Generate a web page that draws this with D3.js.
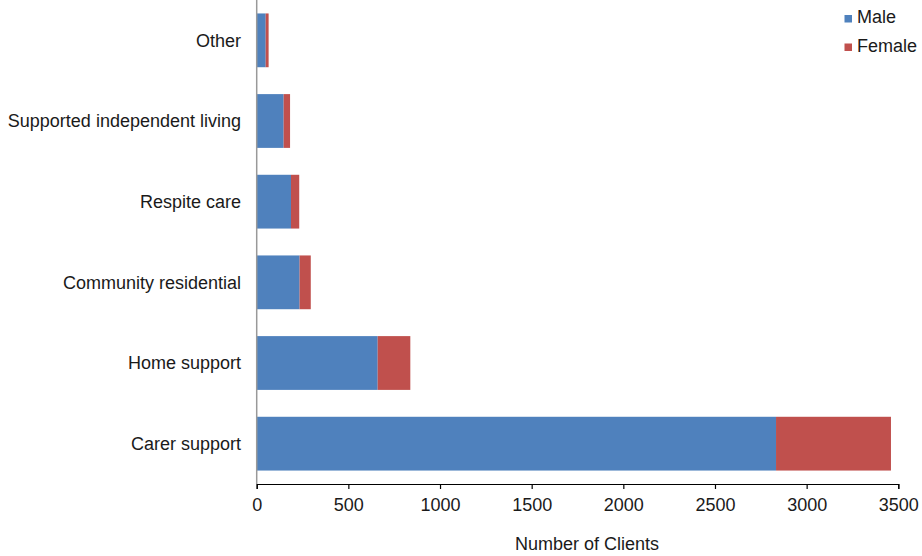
<!DOCTYPE html>
<html><head><meta charset="utf-8">
<script src="https://cdn.jsdelivr.net/npm/d3@7"></script>
<style>body{margin:0;background:#fff}svg{display:block;font-family:"Liberation Sans",Arial,sans-serif}</style>
</head><body><svg id="c" width="922" height="556"></svg>
<script>
const categories = ["Other","Supported independent living","Respite care","Community residential","Home support","Carer support"];
const male = [49, 147, 187, 234, 660, 2833];
const female = [16, 35, 45, 61, 178, 627];
const seriesNames = ["Male","Female"];
const colors = ["#4f81bd","#c0504d"];
const xTicks = [0,500,1000,1500,2000,2500,3000,3500];

(function(){
const svg = d3.select("#c");
const mL = 256.7, mR = 898.3, mT = 0, mB = 484;
const x = d3.scaleLinear().domain([0,3500]).range([mL,mR]);
const y = d3.scaleBand().domain(categories).range([mT,mB]).paddingInner(1/3).paddingOuter(1/6);

const data = categories.map((c,i)=>({cat:c, Male:male[i], Female:female[i]}));
const stack = d3.stack().keys(seriesNames)(data);

svg.append("g").selectAll("g").data(stack).join("g")
  .attr("fill",(d,i)=>colors[i])
  .selectAll("rect").data(d=>d).join("rect")
  .attr("x",d=>x(d[0])).attr("width",d=>x(d[1])-x(d[0]))
  .attr("y",d=>y(d.data.cat)).attr("height",y.bandwidth());

svg.append("line").attr("x1",mL).attr("x2",mL).attr("y1",mT).attr("y2",mB)
  .attr("stroke","#999").attr("stroke-width",1.5);

svg.append("g").selectAll("text").data(categories).join("text")
  .attr("x",241).attr("y",d=>y(d)+y.bandwidth()/2).attr("dy","0.35em")
  .attr("text-anchor","end").attr("font-size",18).attr("fill","#1a1a1a").text(d=>d);

const xa = svg.append("g").attr("transform",`translate(0,${mB})`)
  .call(d3.axisBottom(x).tickValues(xTicks).tickSize(5).tickFormat(d3.format("d")));
xa.select(".domain").attr("stroke","#000").attr("stroke-width",1.2);
xa.selectAll(".tick line").attr("stroke","#000").attr("stroke-width",1.2);
xa.selectAll(".tick text").attr("font-size",18).attr("font-family","Liberation Sans, Arial, sans-serif").attr("fill","#1a1a1a").attr("dy",0).attr("y",27);

svg.append("text").attr("x",587).attr("y",550).attr("text-anchor","middle")
  .attr("font-size",18).attr("fill","#1a1a1a").text("Number of Clients");

const lg = svg.append("g").selectAll("g").data(seriesNames).join("g")
  .attr("transform",(d,i)=>`translate(844.5,${15+i*28.5})`);
lg.append("rect").attr("width",7.5).attr("height",7.5).attr("fill",(d,i)=>colors[i]);
lg.append("text").attr("x",12.5).attr("y",8).attr("font-size",18).attr("fill","#1a1a1a").text(d=>d);
})();
</script></body></html>
